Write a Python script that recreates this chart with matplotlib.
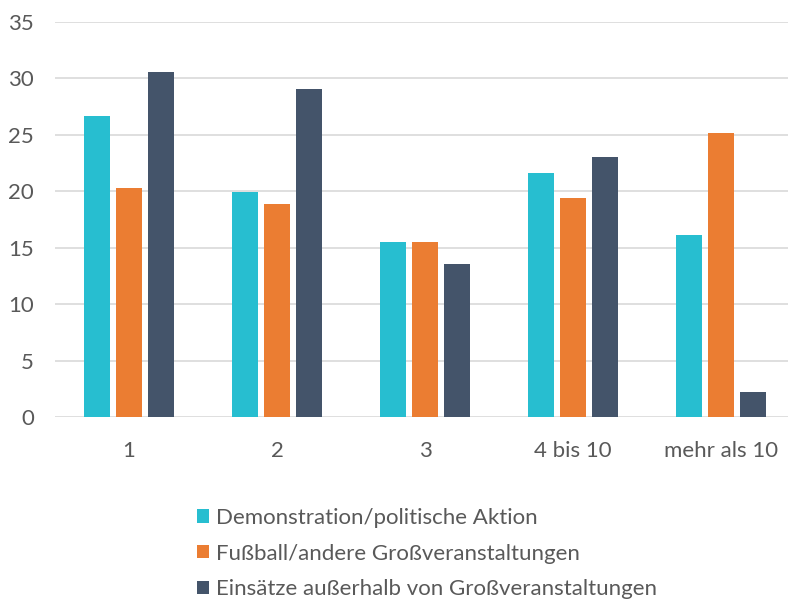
import numpy as np
import matplotlib
matplotlib.use("Agg")
import matplotlib.pyplot as plt
from matplotlib.patches import Patch

# Data
categories = ["1", "2", "3", "4 bis 10", "mehr als 10"]
series_names = [
    "Demonstration/politische Aktion",
    "Fußball/andere Großveranstaltungen",
    "Einsätze außerhalb von Großveranstaltungen",
]
demo_values = [26.7, 19.9, 15.5, 21.6, 16.1]
fussball_values = [20.3, 18.9, 15.5, 19.4, 25.2]
einsatz_values = [30.6, 29.1, 13.6, 23.0, 2.2]
y_ticks = [0, 5, 10, 15, 20, 25, 30, 35]

colors = ["#27BED0", "#EB7D32", "#44546A"]
text_color = "#595959"

plt.rcParams["font.family"] = ["Lato", "DejaVu Sans"]

fig = plt.figure(figsize=(7.88, 5.99), dpi=100)
# axes runs a little past the right edge, like the cropped original
ax = fig.add_axes([55 / 788, 1 - 417 / 599, 740 / 788, 395 / 599])

x = np.arange(len(categories))
width = 0.176
step = 0.2166
for i, (vals, c) in enumerate(zip([demo_values, fussball_values, einsatz_values], colors)):
    ax.bar(x + (i - 1) * step, vals, width=width, color=c, zorder=3)

ax.set_xlim(-0.5, len(categories) - 0.5)
ax.set_ylim(0, 35)
ax.set_yticks(y_ticks)
ax.set_xticks(x)
ax.set_xticklabels(categories)
ax.yaxis.grid(True, color="#D9D9D9", linewidth=1.2, zorder=0)
ax.set_axisbelow(True)
for s in ax.spines.values():
    s.set_visible(False)
ax.tick_params(axis="both", length=0, labelsize=16, colors=text_color)
ax.tick_params(axis="y", pad=15)
ax.tick_params(axis="x", pad=17)
for lab in ax.get_yticklabels():
    lab.set_horizontalalignment("right")

handles = [Patch(facecolor=c, edgecolor="none", label=n) for c, n in zip(colors, series_names)]
leg = fig.legend(handles=handles, loc="upper left", bbox_to_anchor=(197 / 788, 1 - 508 / 599),
                 frameon=False, fontsize=16, handlelength=0.55, handleheight=0.55,
                 handletextpad=0.3, labelspacing=0.7, borderaxespad=0, borderpad=0)
for t in leg.get_texts():
    t.set_color(text_color)

fig.savefig("out.png", dpi=100)
